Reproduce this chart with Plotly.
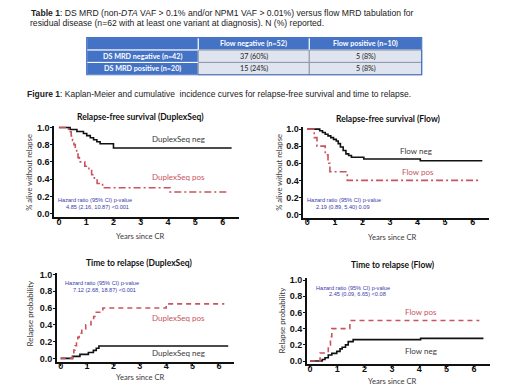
import plotly.graph_objects as go

W, H = 520, 390

# ---------------- data ----------------
table_header = ["", "Flow negative (n=52)", "Flow positive (n=10)"]
table_rows = ["DS MRD negative (n=42)", "DS MRD positive (n=20)"]
table_flow_neg = ["37 (60%)", "15 (24%)"]
table_flow_pos = ["5 (8%)", "5 (8%)"]

x_ticks = [0, 1, 2, 3, 4, 5, 6]
y_ticks = [0.0, 0.2, 0.4, 0.6, 0.8, 1.0]
y_ticklabels = ["0.0", "0.2", "0.4", "0.6", "0.8", "1.0"]

# Relapse-free survival (DuplexSeq)
rfs_ds_neg_t = [0, 0.41, 0.66, 0.9, 1.02, 1.15, 1.27, 1.39, 1.51, 2.0, 6.33]
rfs_ds_neg_s = [1.0, 0.976, 0.952, 0.929, 0.905, 0.881, 0.857, 0.833, 0.81, 0.762, 0.762]
rfs_ds_pos_t = [0, 0.35, 0.45, 0.5, 0.55, 0.6, 0.65, 0.7, 0.75, 0.95, 1.1, 1.2, 1.3, 1.4, 1.6, 4.07, 6.2]
rfs_ds_pos_s = [1.0, 0.95, 0.9, 0.85, 0.8, 0.75, 0.7, 0.65, 0.6, 0.55, 0.5, 0.45, 0.4, 0.35, 0.3, 0.25, 0.25]

# Relapse-free survival (Flow)
rfs_fl_neg_t = [0, 0.45, 0.55, 0.65, 0.75, 0.85, 0.95, 1.05, 1.12, 1.2, 1.3, 1.4, 1.5, 1.6, 2.05, 4.1, 6.35]
rfs_fl_neg_s = [1.0, 0.98, 0.96, 0.94, 0.92, 0.90, 0.88, 0.86, 0.83, 0.79, 0.75, 0.71, 0.69, 0.67, 0.65, 0.63, 0.63]
rfs_fl_pos_t = [0, 0.25, 0.35, 0.65, 0.75, 0.82, 1.45, 6.2]
rfs_fl_pos_s = [1.0, 0.9, 0.8, 0.7, 0.6, 0.5, 0.4, 0.4]

# Time to relapse (DuplexSeq)
ttr_ds_pos_t = [0, 0.45, 0.5, 0.55, 0.6, 0.65, 0.7, 0.8, 0.95, 1.15, 1.25, 1.35, 1.6, 4.0, 6.2]
ttr_ds_pos_p = [0.0, 0.05, 0.1, 0.15, 0.2, 0.25, 0.3, 0.35, 0.4, 0.45, 0.5, 0.55, 0.6, 0.65, 0.65]
ttr_ds_neg_t = [0, 0.45, 0.73, 1.05, 1.24, 1.35, 1.45, 6.35]
ttr_ds_neg_p = [0.0, 0.024, 0.048, 0.071, 0.095, 0.12, 0.148, 0.148]

# Time to relapse (Flow)
ttr_fl_pos_t = [0, 0.37, 0.67, 0.75, 0.8, 1.46, 6.2]
ttr_fl_pos_p = [0.0, 0.1, 0.2, 0.3, 0.4, 0.5, 0.5]
ttr_fl_neg_t = [0, 0.45, 0.55, 0.67, 0.8, 0.98, 1.1, 1.18, 1.3, 1.4, 1.58, 4.05, 6.35]
ttr_fl_neg_p = [0.0, 0.02, 0.04, 0.075, 0.095, 0.12, 0.15, 0.17, 0.2, 0.24, 0.265, 0.28, 0.28]

# ---------------- style ----------------
RED = "#c9535e"
BLACK = "#111111"
BLUE_TXT = "#3a3aa8"
GRAY_TXT = "#3a3a3a"
HDR_BLUE = "#4472c4"
CELL_BG = "#dfe4ee"


def X(px):
    return px / W


def Y(py):
    return 1 - py / H


fig = go.Figure()
shapes = []
anns = []


def ann(text, px, py, size, color="#111", xanchor="center", family="Lato", angle=0):
    anns.append(dict(
        text=text, x=X(px), y=Y(py), xref="paper", yref="paper", showarrow=False,
        xanchor=xanchor, yanchor="middle", textangle=angle,
        font=dict(family=family, size=size, color=color),
    ))


# ---------------- table (layout boxes + text) ----------------
col_edges = [86.7, 198.3, 309.3, 421.7]
row_edges = [35, 47.7, 60.2, 72.7]
grid_text = [table_header] + [[table_rows[i], table_flow_neg[i], table_flow_pos[i]] for i in range(2)]
for r in range(3):
    for c in range(3):
        is_head = (r == 0) or (c == 0)
        shapes.append(dict(
            type="rect", xref="paper", yref="paper",
            x0=X(col_edges[c]), x1=X(col_edges[c + 1]),
            y0=Y(row_edges[r + 1]), y1=Y(row_edges[r]),
            fillcolor=HDR_BLUE if is_head else CELL_BG,
            line=dict(color="#ffffff" if is_head else "#8f98ab", width=1),
            layer="below",
        ))
        txt = grid_text[r][c]
        if txt:
            ann("<b>%s</b>" % txt if is_head else txt,
                (col_edges[c] + col_edges[c + 1]) / 2, (row_edges[r] + row_edges[r + 1]) / 2,
                7.2, "white" if is_head else "#222")
shapes.append(dict(type="rect", xref="paper", yref="paper",
                   x0=X(col_edges[0]), x1=X(col_edges[-1]), y0=Y(row_edges[-1]), y1=Y(row_edges[0]),
                   line=dict(color=HDR_BLUE, width=1.2), fillcolor="rgba(0,0,0,0)"))

# ---------------- panels ----------------
panels = [
    dict(xd=(54, 239), xr=(-0.18, 6.6), yd=(216.8, 124.3), yr=(-0.04, 1.02)),
    dict(xd=(303.2, 489.2), xr=(-0.15, 6.6), yd=(217.3, 126), yr=(-0.035, 1.02)),
    dict(xd=(56.7, 233.5), xr=(-0.15, 6.55), yd=(363.4, 273.3), yr=(-0.04, 1.02)),
    dict(xd=(306.7, 490), xr=(-0.12, 6.59), yd=(366, 279), yr=(-0.04, 1.02)),
]

curves = [
    (1, rfs_ds_neg_t, rfs_ds_neg_s, BLACK, "solid"),
    (1, rfs_ds_pos_t, rfs_ds_pos_s, RED, "7px,3px,2px,3px"),
    (2, rfs_fl_neg_t, rfs_fl_neg_s, BLACK, "solid"),
    (2, rfs_fl_pos_t, rfs_fl_pos_s, RED, "7px,3px,2px,3px"),
    (3, ttr_ds_neg_t, ttr_ds_neg_p, BLACK, "solid"),
    (3, ttr_ds_pos_t, ttr_ds_pos_p, RED, "5px,4px"),
    (4, ttr_fl_neg_t, ttr_fl_neg_p, BLACK, "solid"),
    (4, ttr_fl_pos_t, ttr_fl_pos_p, RED, "5px,4px"),
]

for k, t, v, col, dash in curves:
    sfx = "" if k == 1 else str(k)
    fig.add_trace(go.Scatter(
        x=t, y=v, mode="lines", line=dict(color=col, width=1.6, dash=dash, shape="hv"),
        xaxis="x" + sfx, yaxis="y" + sfx, showlegend=False, hoverinfo="skip",
    ))

tickfont = dict(family="Liberation Sans", size=9, color="#111", weight="bold")
layout_axes = {}
for i, p in enumerate(panels, start=1):
    sfx = "" if i == 1 else str(i)
    osfx = str(i + 4)  # overlay axes that only draw the outside tick marks
    xdom = [X(p["xd"][0]), X(p["xd"][1])]
    ydom = [Y(p["yd"][0]), Y(p["yd"][1])]
    common = dict(showline=True, linecolor="#111", linewidth=1.5, ticks="", ticklen=0,
                  showgrid=False, zeroline=False, tickfont=tickfont, fixedrange=True)
    layout_axes["xaxis" + sfx] = dict(
        domain=xdom, range=list(p["xr"]), anchor="y" + sfx,
        tickvals=x_ticks, ticktext=[str(v) for v in x_ticks], ticklabelstandoff=-5, **common,
    )
    layout_axes["yaxis" + sfx] = dict(
        domain=ydom, range=list(p["yr"]), anchor="x" + sfx,
        tickvals=y_ticks, ticktext=y_ticklabels, ticklabelstandoff=1, **common,
    )
    tk = dict(showline=False, ticks="outside", ticklen=3, tickwidth=1.3, tickcolor="#111",
              showticklabels=False, showgrid=False, zeroline=False, fixedrange=True)
    layout_axes["xaxis" + osfx] = dict(domain=xdom, range=list(p["xr"]), anchor="y" + osfx,
                                       overlaying="x" + sfx, tickvals=x_ticks, **tk)
    layout_axes["yaxis" + osfx] = dict(domain=ydom, range=list(p["yr"]), anchor="x" + osfx,
                                       overlaying="y" + sfx, tickvals=y_ticks, **tk)
    fig.add_trace(go.Scatter(x=[p["xr"][0]], y=[p["yr"][0]], mode="markers", marker=dict(opacity=0),
                             xaxis="x" + osfx, yaxis="y" + osfx, showlegend=False, hoverinfo="skip"))

# header text
ann("<b>Table 1</b>: DS MRD (non-<i>DTA</i> VAF &gt; 0.1% and/or NPM1 VAF &gt; 0.01%) versus flow MRD tabulation for",
    29, 10.5, 8.6, "#222", "left", "Liberation Sans")
ann("residual disease (n=62 with at least one variant at diagnosis). N (%) reported.",
    27.5, 20.5, 8.6, "#222", "left", "Liberation Sans")
ann("<b>Figure 1</b>: Kaplan-Meier and cumulative  incidence curves for relapse-free survival and time to relapse.",
    25, 92.5, 8.5, "#222", "left", "Liberation Sans")

# panel titles
ann("<b>Relapse-free survival (DuplexSeq)</b>", 140, 115, 8.5)
ann("<b>Relapse-free survival (Flow)</b>", 388, 117, 8.5)
ann("<b>Time to relapse (DuplexSeq)</b>", 139, 263.5, 8.5)
ann("<b>Time to relapse (Flow)</b>", 393, 265.5, 8.5)

# axis titles
AX = 7.6
ann("Years since CR", 140.7, 236, AX, GRAY_TXT)
ann("Years since CR", 392.5, 237.5, AX, GRAY_TXT)
ann("Years since CR", 140.8, 378.5, AX, GRAY_TXT)
ann("Years since CR", 392.3, 382.5, AX, GRAY_TXT)
ann("% alive without relapse", 29.5, 171.5, AX, GRAY_TXT, angle=-90)
ann("% alive without relapse", 279, 172, AX, GRAY_TXT, angle=-90)
ann("Relapse probability", 29.5, 315, AX + 0.3, GRAY_TXT, angle=-90)
ann("Relapse probability", 282, 321.5, AX + 0.3, GRAY_TXT, angle=-90)

# curve labels
LB = 8
ann("DuplexSeq neg", 178, 138, LB, GRAY_TXT)
ann("DuplexSeq pos", 178, 176, LB, RED)
ann("Flow neg", 415.7, 150, LB, GRAY_TXT)
ann("Flow pos", 417.7, 171, LB, RED)
ann("DuplexSeq pos", 178, 319.5, LB, RED)
ann("DuplexSeq neg", 178, 355, LB, GRAY_TXT)
ann("Flow pos", 420.7, 313.5, LB, RED)
ann("Flow neg", 421, 352.5, LB, GRAY_TXT)

# hazard ratio notes
HF = "Liberation Sans"
ann("Hazard ratio (95% CI) p-value", 95, 199.5, 5.6, BLUE_TXT, family=HF)
ann("4.85 (2.16, 10.87) &lt;0.001", 97.5, 206.8, 5.6, BLUE_TXT, family=HF)
ann("Hazard ratio (95% CI) p-value", 343.5, 200, 5.6, BLUE_TXT, family=HF)
ann("2.19 (0.89, 5.40) 0.09", 343, 206.8, 5.6, BLUE_TXT, family=HF)
ann("Hazard ratio (95% CI) p-value", 101.7, 284, 5.6, BLUE_TXT, family=HF)
ann("7.12 (2.68, 18.87) &lt;0.001", 104, 290.8, 5.6, BLUE_TXT, family=HF)
ann("Hazard ratio (95% CI) p-value", 353.3, 288.3, 5.6, BLUE_TXT, family=HF)
ann("2.45 (0.09, 6.65) &lt;0.08", 357.8, 295, 5.6, BLUE_TXT, family=HF)

fig.update_layout(
    width=W, height=H, margin=dict(l=0, r=0, t=0, b=0),
    paper_bgcolor="white", plot_bgcolor="rgba(0,0,0,0)", showlegend=False,
    annotations=anns, shapes=shapes, **layout_axes,
)

fig.write_html("out.html", config={"displayModeBar": False},
               post_script="document.body.style.margin='0';document.body.style.overflow='hidden';")
